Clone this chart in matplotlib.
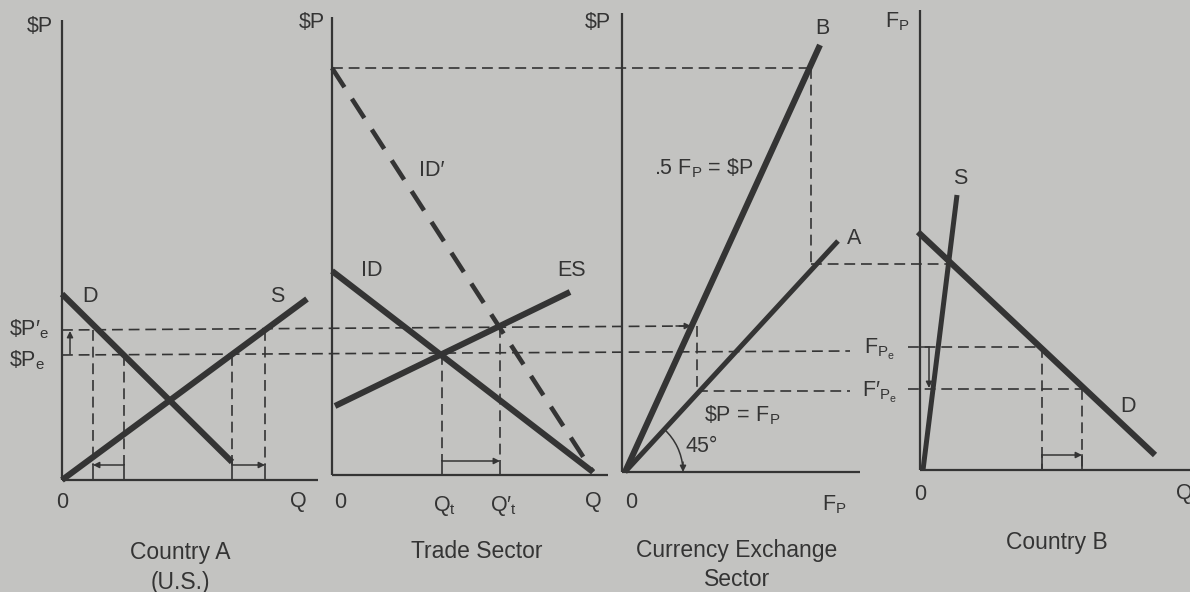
import matplotlib
matplotlib.use("Agg")
import matplotlib.pyplot as plt
from matplotlib.patches import Arc

plt.rcParams["font.family"] = ["Liberation Sans", "DejaVu Sans"]
plt.rcParams["mathtext.fontset"] = "custom"
plt.rcParams["mathtext.rm"] = "Liberation Sans"
plt.rcParams["mathtext.it"] = "Liberation Sans"

BG = "#c3c3c1"
INK = "#343434"

# ---------------------------------------------------------------
# Diagram geometry (canvas units, y grows downward)
# ---------------------------------------------------------------
# axes of the four panels: x of vertical axis, top, baseline, right end
axis_x = [62, 332, 622, 920]
axis_top = [20, 17, 13, 10]
base_y = [480, 475, 472, 470]
axis_right = [318, 608, 860, 1190]

# thick curves: (x0, x1), (y0, y1)
curves = {
    "A_D": ([62, 232], [294, 462]),
    "A_S": ([62, 307], [480, 299]),
    "T_ID": ([332, 593], [271, 472]),
    "T_ES": ([335, 570], [406, 292]),
    "C_B": ([625, 820], [472, 45]),
    "C_A": ([625, 838], [472, 241]),
    "B_S": ([923, 957], [470, 195]),
    "B_D": ([918, 1155], [232, 455]),
}
shifted_id = ([332, 593], [68, 472])

# thin dashed guide lines
guides_x = [
    [62, 690], [62, 850], [332, 811], [811, 811], [811, 950],
    [697, 697], [697, 850], [908, 1042], [908, 1082], [1042, 1042], [1082, 1082],
    [93, 93], [124, 124], [232, 232], [265, 265], [442, 442], [500, 500],
]
guides_y = [
    [330, 326], [355, 351], [68, 68], [68, 264], [264, 264],
    [326, 391], [391, 391], [347, 347], [389, 389], [347, 470], [389, 470],
    [330, 465], [355, 465], [355, 465], [330, 465], [354, 461], [327, 461],
]

# small solid arrows: start -> end
arrows = [
    ((70, 354), (70, 331)),
    ((124, 465), (93, 465)),
    ((232, 465), (265, 465)),
    ((442, 461), (500, 461)),
    ((676, 326), (691, 326)),
    ((929, 347), (929, 388)),
    ((1042, 455), (1082, 455)),
    ((683, 462), (683, 472)),
]
# bracket ticks under the arrows
ticks_x = [93, 124, 232, 265, 442, 500, 1042, 1082]
ticks_y0 = [465, 465, 462, 465, 461, 461, 455, 455]
ticks_y1 = [480, 480, 480, 480, 475, 475, 470, 470]

fig = plt.figure(figsize=(11.9, 5.92), dpi=100, facecolor=BG)
ax = fig.add_axes([0, 0, 1, 1])
ax.set_facecolor(BG)
ax.set_xlim(0, 1190)
ax.set_ylim(592, 0)
ax.axis("off")

# axes of each panel
for x0, top, base, right in zip(axis_x, axis_top, base_y, axis_right):
    ax.plot([x0, x0], [top, base], color=INK, lw=1.6, solid_capstyle="butt")
    ax.plot([x0, right], [base, base], color=INK, lw=1.6, solid_capstyle="butt")

# dashed guides
for gx, gy in zip(guides_x, guides_y):
    ax.plot(gx, gy, color=INK, lw=1.2, dashes=(6.5, 3.5))

# curves
for key, (cx, cy) in curves.items():
    w = 3.6 if key in ("C_A", "B_S") else 4.4
    ax.plot(cx, cy, color=INK, lw=w, solid_capstyle="butt")
ax.plot(shifted_id[0], shifted_id[1], color=INK, lw=3.3, dashes=(5, 3))

# arrows and brackets
for (x0, y0), (x1, y1) in arrows:
    ax.annotate("", xy=(x1, y1), xytext=(x0, y0),
                arrowprops=dict(arrowstyle="-|>", color=INK, lw=1.1,
                                mutation_scale=9, shrinkA=0, shrinkB=0))
for tx, t0, t1 in zip(ticks_x, ticks_y0, ticks_y1):
    ax.plot([tx, tx], [t0, t1], color=INK, lw=1.2)
ax.plot([920, 929], [347, 347], color=INK, lw=1.1)

# 45 degree arc around the origin of the exchange sector
ax.add_patch(Arc((625, 472), 116, 116, theta1=-47, theta2=-4, color=INK, lw=1.1))

# labels
fs = 15.5
labels = [
    (40, 27, r"\$P"), (312, 22, r"\$P"), (598, 22, r"\$P"),
    (897, 22, r"$\mathrm{F}_\mathrm{P}$"),
    (62, 502, "0"), (298, 502, "Q"), (340, 502, "0"),
    (445, 506, r"$\mathrm{Q}_\mathrm{t}$"), (504, 506, r"$\mathrm{Q}\prime_\mathrm{t}$"),
    (593, 502, "Q"), (631, 502, "0"), (834, 505, r"$\mathrm{F}_\mathrm{P}$"),
    (920, 494, "0"), (1184, 494, "Q"),
    (90, 297, "D"), (277, 297, "S"), (432, 170, "ID\u2032"), (372, 270, "ID"),
    (572, 270, "ES"), (822, 28, "B"), (854, 238, "A"),
    (704, 168, r".5 F$_\mathrm{P}$ = \$P"),
    (742, 415, r"$\$\mathrm{P}\,=\,\mathrm{F}_\mathrm{P}$"),
    (702, 446, "45\u00b0"), (960, 179, "S"), (1128, 406, "D"),
    (879, 349, r"$\mathrm{F}_{\mathrm{P}_\mathrm{e}}$"),
    (879, 392, r"$\mathrm{F}\prime_{\mathrm{P}_\mathrm{e}}$"),
]
for lx, ly, s in labels:
    ax.text(lx, ly, s, fontsize=fs, color=INK, ha="center", va="center")

ax.text(9, 329, r"$\$\mathrm{P}\prime_\mathrm{e}$", fontsize=fs, color=INK, ha="left", va="center")
ax.text(9, 360, r"$\$\mathrm{P}_\mathrm{e}$", fontsize=fs, color=INK, ha="left", va="center")

titles = [
    (180, 552, "Country A"), (180, 582, "(U.S.)"), (477, 551, "Trade Sector"),
    (737, 551, "Currency Exchange"), (737, 580, "Sector"), (1057, 543, "Country B"),
]
for tx, ty, s in titles:
    ax.text(tx, ty, s, fontsize=16.5, color=INK, ha="center", va="center")

fig.savefig("out.png", dpi=100, facecolor=BG)
